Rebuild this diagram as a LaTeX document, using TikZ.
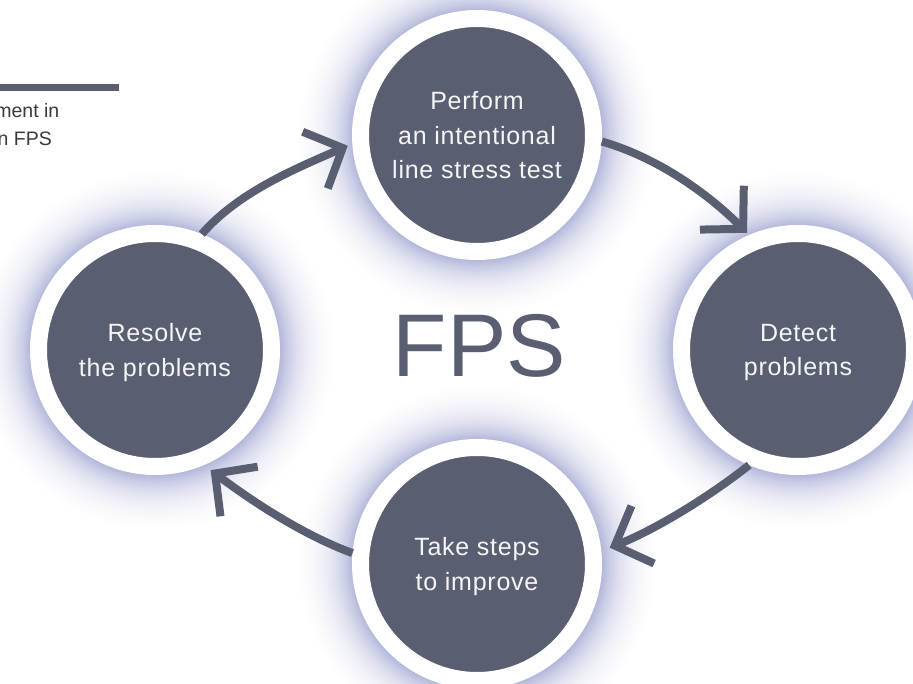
\documentclass[tikz,border=0pt]{standalone}
\usepackage{fontspec}
\setmainfont{Liberation Sans}
\newfontfamily\stagefont[LetterSpace=3]{Liberation Sans}
\usetikzlibrary{arrows.meta,calc}

\definecolor{slate}{RGB}{90,94,113}
\definecolor{stagetext}{RGB}{245,245,247}
\definecolor{captext}{RGB}{58,58,60}
\definecolor{haloc}{RGB}{150,156,204}
\colorlet{haloA}{haloc!72!white}
\colorlet{haloB}{haloc!52!white}
\colorlet{haloC}{haloc!31!white}
\colorlet{haloD}{haloc!14!white}
\colorlet{haloE}{haloc!5!white}

% soft bluish glow around each stage (25bp = edge of the shaded disc)
\pgfdeclareradialshading{halo}{\pgfpoint{0bp}{0bp}}{%
  color(0bp)=(haloA); color(17.36bp)=(haloA); color(18.33bp)=(haloB);
  color(19.72bp)=(haloC); color(21.53bp)=(haloD); color(23.33bp)=(haloE);
  color(25bp)=(white); color(50bp)=(white)}

\tikzset{
  stage/.style={circle, fill=slate, draw=white, line width=17pt,
    minimum size=233pt, inner sep=0pt, text=stagetext, align=center,
    text depth=0pt, font={\stagefont\fontsize{25}{34.5}\selectfont}},
  flow/.style={draw=slate, line width=8pt,
    -{Straight Barb[length=30pt, width=62pt, sharp]}},
  caption/.style={text=captext, inner sep=0pt,
    font={\fontsize{19.5}{28}\selectfont}},
}

\begin{document}
\begin{tikzpicture}[x=1pt, y=-1pt]
  \useasboundingbox (0,0) rectangle (913,684);
  \clip (0,0) rectangle (913,684);

  % stage centres
  \coordinate (cT) at (477,135);
  \coordinate (cR) at (798,350);
  \coordinate (cB) at (477,564);
  \coordinate (cL) at (155,350);

  % glows
  \foreach \c in {cT,cR,cB,cL}
    \shade[shading=halo] (\c) circle[radius=180];

  % caption fragment with rule above it
  \fill[slate] (0,84) rectangle (119,91);
  \node[caption, anchor=base east] (cap1) at (59.5,117.5) {ment in};
  \node[caption, anchor=base east] (cap2) at (52,145.7) {n FPS};

  % stages
  \node[stage] (T) at (cT) {Perform\\an intentional\\line stress test};
  \node[stage] (R) at (cR) {Detect\\problems};
  \node[stage] (B) at (cB) {Take steps\\to improve};
  \node[stage] (L) at (cL) {Resolve\\the problems};

  % centre title
  \node[text=slate, inner sep=0pt, anchor=base,
        font={\fontsize{89}{89}\selectfont}] (fps) at (479.5,377) {FPS};

  % cycle arrows
  \draw[flow, shorten >=5pt] (L.68)
    .. controls ($(L.68)+(37,-43)$) and ($(T.184)+(-52,23)$) .. (T.184);
  \draw[flow, shorten >=3pt] (T.-3)
    .. controls ($(T.-3)+(56,16)$) and ($(R.113)+(-41,-41)$) .. (R.113);
  \draw[flow, shorten >=9pt] (R.247)
    .. controls ($(R.247)+(-43,34)$) and ($(B.6)+(51,-20)$) .. (B.6);
  \draw[flow, shorten >=8.5pt] (B.175)
    .. controls ($(B.175)+(-52,-19)$) and ($(L.-67)+(44,33)$) .. (L.-67);
\end{tikzpicture}
\end{document}
